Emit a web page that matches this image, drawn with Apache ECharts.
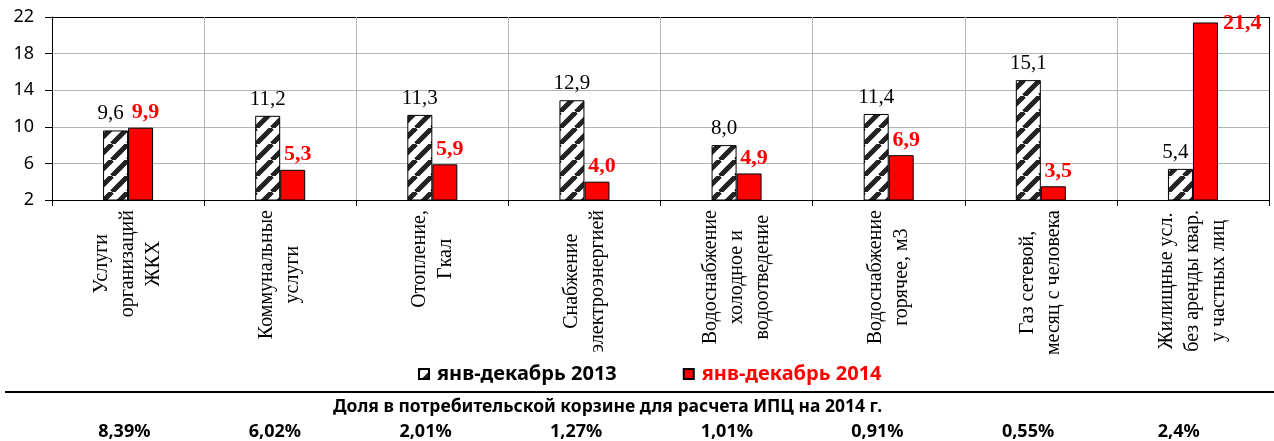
<!DOCTYPE html>
<html>
<head>
<meta charset="utf-8">
<script src="https://cdn.jsdelivr.net/npm/echarts@6/dist/echarts.min.js"></script>
<style>
html, body { margin: 0; padding: 0; background: #fff; }
#main { width: 1274px; height: 441px; }
</style>
</head>
<body>
<div id="main"></div>
<script>
// подписи категорий
var categories = [
    'Услуги\nорганизаций\nЖКХ',
    'Коммунальные\nуслуги',
    'Отопление,\nГкал',
    'Снабжение\nэлектроэнергией',
    'Водоснабжение\nхолодное и\nводоотведение',
    'Водоснабжение\nгорячее, м3',
    'Газ сетевой,\nмесяц с человека',
    'Жилищные усл.\nбез аренды квар.\nу частных лиц'
];
var seriesNames = ['янв-декабрь 2013', 'янв-декабрь 2014'];
var values2013 = [9.6, 11.2, 11.3, 12.9, 8.0, 11.4, 15.1, 5.4];
var values2014 = [9.9, 5.3, 5.9, 4.0, 4.9, 6.9, 3.5, 21.4];
var yMin = 2, yMax = 22, yStep = 4;
var shareTitle = 'Доля в потребительской корзине для расчета ИПЦ на 2014 г.';
var shares = ['8,39%', '6,02%', '2,01%', '1,27%', '1,01%', '0,91%', '0,55%', '2,4%'];

// штриховка для 2013
function hatch() {
    var s = 16;
    var c = document.createElement('canvas');
    c.width = s; c.height = s;
    var g = c.getContext('2d');
    g.fillStyle = '#fff';
    g.fillRect(0, 0, s, s);
    g.strokeStyle = '#222';
    g.lineWidth = 5;
    for (var k = -1; k <= 1; k++) {
        g.beginPath();
        g.moveTo(k * s, s);
        g.lineTo(k * s + s, 0);
        g.stroke();
    }
    return c;
}

function fmt(p) {
    return p.value.toFixed(1).replace('.', ',');
}

var grey = '#b4b4b4';
var ySplit = [], xSplit = [];
for (var i = 0; i <= (yMax - yMin) / yStep; i++) ySplit.push(i === (yMax - yMin) / yStep ? '#000' : grey);
for (var j = 0; j <= categories.length; j++) xSplit.push(j === categories.length ? '#000' : grey);

var myChart = echarts.init(document.getElementById('main'));

var option = {
    animation: false,
    graphic: [{
        type: 'line',
        shape: { x1: 5, y1: 392, x2: 1274, y2: 392 },
        style: { stroke: '#000', lineWidth: 2 }
    }],
    title: {
        text: shareTitle,
        left: 333,
        top: 398,
        padding: 0,
        textStyle: { fontFamily: 'Noto Sans', fontWeight: 'bold', fontSize: 17.5, color: '#000' }
    },
    legend: {
        left: 418,
        top: 364,
        icon: 'rect',
        itemWidth: 10,
        itemHeight: 10,
        itemGap: 66,
        padding: 0,
        textStyle: { fontFamily: 'Noto Sans', fontWeight: 'bold', fontSize: 20, padding: [0, 0, 0, 3] },
        data: [
            { name: seriesNames[0], textStyle: { color: '#000' } },
            { name: seriesNames[1], textStyle: { color: '#ff0000' } }
        ]
    },
    grid: [
        { left: 52, right: 5, top: 17, bottom: 241 },
        { left: 49, right: 20, top: 415, height: 1 }
    ],
    xAxis: [{
        type: 'category',
        data: categories,
        axisLine: { show: true, lineStyle: { color: '#000', width: 1 } },
        axisTick: { show: true, length: 6, interval: 0, lineStyle: { color: '#000' } },
        splitLine: { show: true, interval: 0, lineStyle: { color: xSplit, width: 1 } },
        axisLabel: {
            interval: 0,
            rotate: 90,
            margin: 10,
            fontFamily: 'Liberation Serif',
            fontSize: 20,
            lineHeight: 26,
            color: '#000',
            formatter: function (v) {
                return v.split('\n').map(function (l) { return '{c|' + l + '}'; }).join('\n');
            },
            rich: {
                c: { align: 'center', fontFamily: 'Liberation Serif', fontSize: 20, lineHeight: 26, color: '#000' }
            }
        }
    }, {
        type: 'category',
        gridIndex: 1,
        data: shares,
        axisLine: { show: false },
        axisTick: { show: false },
        splitLine: { show: false },
        axisLabel: {
            interval: 0,
            margin: 8,
            fontFamily: 'Noto Sans',
            fontWeight: 'bold',
            fontSize: 18,
            lineHeight: 18,
            color: '#000'
        }
    }],
    yAxis: [{
        type: 'value',
        min: yMin,
        max: yMax,
        interval: yStep,
        axisLine: { show: true, lineStyle: { color: '#000', width: 1 } },
        axisTick: { show: true, length: 7, lineStyle: { color: '#000' } },
        splitLine: { show: true, lineStyle: { color: ySplit, width: 1 } },
        axisLabel: { margin: 18, fontFamily: 'Noto Sans', fontSize: 18, color: '#000' }
    }, {
        type: 'value',
        gridIndex: 1,
        show: false
    }],
    series: [{
        name: seriesNames[0],
        type: 'bar',
        barWidth: 25,
        barGap: '0%',
        data: values2013.map(function (v, i) {
            // подпись сдвинута влево, если рядом высокий красный столбец
            return values2014[i] > v ? { value: v, label: { offset: [-5, 0] } } : v;
        }),
        itemStyle: { color: { image: hatch(), repeat: 'repeat' }, borderColor: '#000', borderWidth: 1 },
        label: {
            show: true,
            position: 'top',
            distance: 6,
            formatter: fmt,
            fontFamily: 'Liberation Serif',
            fontSize: 21,
            color: '#000'
        }
    }, {
        name: seriesNames[1],
        type: 'bar',
        barWidth: 25,
        data: values2014.map(function (v, i) {
            // самое высокое значение подписано справа от столбца
            return i === values2014.length - 1 ? { value: v, label: { position: [30, -10], offset: [0, 0] } } : v;
        }),
        itemStyle: { color: '#ff0000', borderColor: '#000', borderWidth: 1 },
        label: {
            show: true,
            position: 'top',
            distance: 4,
            offset: [5, 0],
            formatter: fmt,
            fontFamily: 'Liberation Serif',
            fontWeight: 'bold',
            fontSize: 22,
            color: '#ff0000'
        }
    }]
};

myChart.setOption(option);
</script>
</body>
</html>
